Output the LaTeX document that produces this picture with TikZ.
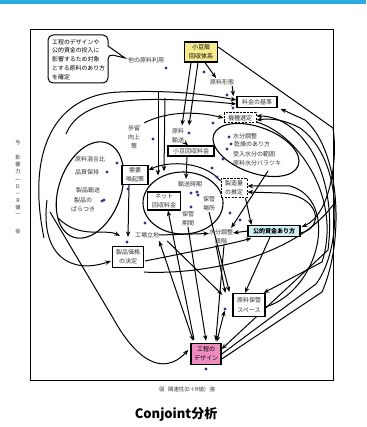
\documentclass[tikz,border=0pt]{standalone}
\usepackage{fontspec}
\setmainfont{Liberation Sans}
\newfontfamily\jp{Noto Sans CJK JP}
\usetikzlibrary{arrows.meta,shapes.geometric,calc,backgrounds}
\definecolor{barblue}{HTML}{29ABE2}
\definecolor{dotblue}{HTML}{2E3192}
\definecolor{fillyellow}{HTML}{F6EA8C}
\definecolor{fillpink}{HTML}{EE8CBF}
\definecolor{fillcyan}{HTML}{CFEFF3}
\definecolor{labelgray}{HTML}{333333}

\begin{document}
\begin{tikzpicture}[x=1pt,y=-1pt,
  font=\jp\fontsize{6}{9.2}\selectfont,
  lbl/.style={inner sep=0pt,text=labelgray,align=center},
  box/.style={draw,line width=1.25pt,fill=white,inner sep=0pt,align=center,text=labelgray},
  dbox/.style={box,line width=1pt,dash pattern=on 2.2pt off 1.3pt},
  dot/.style={diamond,fill=dotblue,inner sep=0pt,minimum size=3.6pt},
  tip/.tip={Stealth[length=5.5pt,width=4.4pt]},
  arr/.style={-tip,line width=1pt},
  arrboth/.style={tip-tip,line width=1pt},
  ln/.style={line width=1pt},
  ring/.style={line width=1.1pt}]
\useasboundingbox (0,0) rectangle (366,427);
\fill[barblue] (0,0) rectangle (366,4.5);
\draw[line width=0.9pt] (30,29) rectangle (333,380);

% axis captions
\node[lbl,font=\jp\fontsize{5.2}{7.25}\selectfont] (yo) at (18,143) {与};
\node[lbl,font=\jp\fontsize{5.2}{7.25}\selectfont] (axisy) at (18,186) {影\\響\\力\\︵\\D\\－\\R\\値\\︶};
\node[lbl,font=\jp\fontsize{5.2}{7.25}\selectfont] (uke) at (18,232) {受};
\node[lbl,font=\jp\fontsize{5.4}{7}\selectfont] (axisx) at (187,390) {弱\ \ \ 関連性(D＋R値)\ \ \ 強};
\node[font=\jp\bfseries\fontsize{13}{15}\selectfont] (title) at (176,414) {Conjoint分析};

% speech bubble
\draw[ln,rounded corners=5pt] (108,46) -- (108,35) -- (48,35) -- (48,83) -- (108,83) -- (108,54) [sharp corners] -- (125,58) -- cycle;
\node[lbl,text=black,align=left,anchor=north west,font=\jp\fontsize{5.9}{8.7}\selectfont] (note) at (52,39)
  {工程のデザインや\\公的資金の投入に\\影響するため対象\\とする原料のあり方\\を確定};

% factors
\node[box,fill=fillyellow,text=black,minimum width=33pt,minimum height=20pt] (shozu) at (201,52) {小豆殻\\回収体系};
\node[lbl,anchor=west] (tano) at (128,60) {他の原料利用};
\node[lbl] (keitai) at (222,82) {原料形態};
\node[box,minimum width=40pt,minimum height=10.5pt] (ryokin) at (257,102) {料金の基準};
\node[dbox,minimum width=32pt,minimum height=10pt] (kishu) at (240,118) {機種選定};
\node[lbl] (budomari) at (134,137) {歩留\\向上\\策};
\node[lbl] (yuso) at (178,136) {原料\\輸送};
\node[box,minimum width=46pt,minimum height=10pt] (kaishu) at (191,151) {小豆回収料金};
\node[lbl,anchor=west] (mz1) at (233,136) {水分調整};
\node[lbl,anchor=west] (mz2) at (234,144) {乾燥のあり方};
\node[lbl,anchor=west] (mz3) at (233,154) {受入水分の範囲};
\node[lbl,anchor=west] (mz4) at (233,163) {原料水分バラツキ};
\node[dbox,minimum width=26pt,minimum height=19pt] (seizo) at (234,188) {製造量\\の推定};
\node[box,minimum width=26pt,minimum height=19pt] (juyo) at (135,175) {需要\\喚起策};
\node[lbl] (kongo) at (90,159) {原料混合比};
\node[lbl] (hinshitsu) at (87,172) {品質保持};
\node[lbl] (seihinyuso) at (88,190) {製品輸送};
\node[lbl] (baratsuki) at (83,204.5) {製品の\\ばらつき};
\node[box,minimum width=33pt,minimum height=18pt] (net) at (164,201) {ネット\\回収料金};
\node[lbl] (jiki) at (190,184) {輸送時期};
\node[lbl] (basho) at (209,203.5) {保管\\場所};
\node[lbl] (kikan) at (188,218.5) {保管\\期間};
\node[lbl] (ritchi) at (147,235) {工場立地};
\node[lbl] (dankai) at (221,236.5) {水分調整\\段階};
\node[box,fill=fillcyan,text=black,minimum width=52pt,minimum height=11pt,font=\jp\bfseries\fontsize{6}{7}\selectfont] (koteki) at (274,231) {公的資金あり方};
\node[box,minimum width=31pt,minimum height=21pt] (kakaku) at (128,257) {製品価格\\の決定};
\node[box,minimum width=32pt,minimum height=23pt] (hokan) at (249,305) {原料保管\\スペース};
\node[box,fill=fillpink,text=black,minimum width=30pt,minimum height=21pt,line width=1.5pt] (kotei) at (206,354) {工程の\\デザイン};

% markers
\foreach \x/\y [count=\i] in {166/68,204/72,227/95,233/108,153/139,189/133,117/163,107/172,102/201,104/200,
  128/189,213/123,229/137,231/144,227/149,223/159,212/168,217/177,191/193,197/192,198/195,191/207,
  145/223,230/213,240/220,127/242,206/369}
  \node[dot] (d\i) at (\x,\y) {};
\node[dot] (dhk) at (225,309) {};

\begin{scope}[on background layer]
% groups
\draw[ring,rotate around={-20:(90,190)}] (90,190) ellipse [x radius=31, y radius=50];
\draw[ring] (183,203) ellipse [x radius=40, y radius=31];
\draw[ring,rotate around={-20:(256,150)}] (256,150) ellipse [x radius=45, y radius=23];

% free ends and turning points
\coordinate (rA) at (333,128);
\coordinate (lw1) at (44,238);
\coordinate (lw2) at (66,134);
\coordinate (le1) at (58,218);
\coordinate (le2) at (47,200);
\coordinate (le3) at (50,212);
\coordinate (vt1) at (158,92);
\coordinate (vt2) at (165,98);
\coordinate (rv) at (268,171);

% from the collection system
\draw[arr] ($(shozu.south)+(-10,0)$) -- ($(yuso.north)+(4,-3)$);
\draw[arr] ($(shozu.south)+(-3,0)$) -- ($(yuso.north)+(11,-3)$);
\draw[arr] ($(shozu.south)+(4,0)$) -- ($(keitai.north)+(-6,-1)$);
\draw[arr] ($(keitai.south east)+(-2,1)$) -- ($(ryokin.north west)+(-3,0)$);
\draw[ln] ($(shozu.east)+(0,-5)$) -- (rA);

% long left loops
\draw[arr] (lw1) .. controls (26,150) and (55,94) .. (120,92) .. controls (170,90) and (205,94) .. ($(ryokin.west)+(0,-2)$);
\draw[arr] (lw2) .. controls (80,100) and (130,98) .. (180,100) .. controls (205,101) .. ($(ryokin.west)+(0,2)$);
\draw[arr] ($(budomari.north east)+(4,-2)$) .. controls (170,110) and (200,112) .. (kishu.west);
\draw[arr] ($(seizo.north west)+(0,3)$) .. controls (205,162) and (170,160) .. ($(juyo.east)+(0,-5)$);
\draw[arr] (vt1) -- ($(net.north)+(-6,-16)$);
\draw[arr] (vt2) -- ($(net.north)+(0,-20)$);
\draw[arr] ($(kaishu.south)+(-4,0)$) -- ($(jiki.north)+(-4,-2)$);
\draw[arr] ($(yuso.south)+(8,0)$) -- ($(kaishu.north)+(-3,0)$);

% towards the product price
\draw[arr] ($(juyo.south)+(-6,0)$) -- ($(kakaku.north)+(0,-9)$);
\draw[arr] (le1) .. controls (80,240) and (105,228) .. ($(kakaku.north west)+(8,-10)$);
\draw[arr] (le2) .. controls (40,255) and (70,275) .. ($(kakaku.west)+(-1,4)$);
\draw[arr] (le3) -- (113,318) .. controls (135,358) and (162,378) .. ($(kotei.west)+(-2,-4)$);
\draw[arr] ($(kakaku.east)+(1,4)$) .. controls (200,250) and (235,243) .. ($(koteki.south west)+(4,1)$);
\draw[ln] ($(kakaku.south east)+(0,4)$) .. controls (220,275) and (300,250) .. (333,205);

% middle band
\draw[arr] (ritchi.east) -- ($(dankai.west)+(0,-3)$);
\draw[arrboth] ($(ritchi.south east)+(0,3)$) -- ($(kotei.north west)+(3,-2)$);
\draw[arr] ($(ritchi.south east)+(8,3)$) -- ($(hokan.north west)+(-10,2)$);
\draw[arr] ($(kikan.south)+(0,1)$) -- ($(kotei.north)+(0,-2)$);
\draw[arr] ($(basho.south)+(0,1)$) -- ($(hokan.north west)+(-3,-1)$);
\draw[arr] ($(dankai.south)+(-5,1)$) -- ($(hokan.north west)+(-7,0)$);
\draw[arr] ($(dankai.south)+(3,1)$) -- ($(kotei.north east)+(-6,-2)$);
\draw[arr] ($(kotei.north)+(-12,-3)$) -- ($(net.south)+(4,0)$);
\draw[arr] ($(koteki.south)+(-4,0)$) -- ($(hokan.north)+(-4,0)$);
\draw[arr] (koteki.west) -- ($(dankai.north east)+(0,4)$);
\draw[arrboth] (dhk) -- ($(kotei.north east)+(-5,-1)$);
\draw[arr] (rv) -- ($(dankai.north east)+(-2,-1)$);
\draw[arr] ($(seizo.south east)+(-2,0)$) -- ($(koteki.north west)+(4,0)$);

% right-hand loops
\draw[arrboth] ($(kishu.east)+(0,-2)$) .. controls (300,116) and (338,170) .. (328,250) -- ($(kotei.east)+(0,-5)$);
\draw[arr] ($(kotei.east)+(0,0)$) -- (316,284) .. controls (342,250) and (345,160) .. (300,128) .. controls (285,120) and (272,118) .. ($(kishu.east)+(0,2)$);
\draw[arr] ($(kotei.east)+(0,5)$) -- (322,292) .. controls (345,240) and (340,150) .. (305,120) -- ($(ryokin.south east)+(3,1)$);
\draw[arr] ($(hokan.east)+(0,2)$) .. controls (320,290) and (340,200) .. (290,186) -- ($(seizo.east)+(0,-2)$);
\draw[arr] ($(koteki.east)+(0,2)$) .. controls (325,228) and (320,195) .. (280,193) -- ($(seizo.east)+(0,4)$);
\draw[arr] ($(kishu.east)+(0,4)$) .. controls (300,135) and (342,200) .. (322,262) -- ($(hokan.north east)+(-2,0)$);
\draw[arr] (rA) .. controls (338,160) and (330,215) .. ($(koteki.north east)+(1,2)$);
\end{scope}
\end{tikzpicture}
\end{document}
